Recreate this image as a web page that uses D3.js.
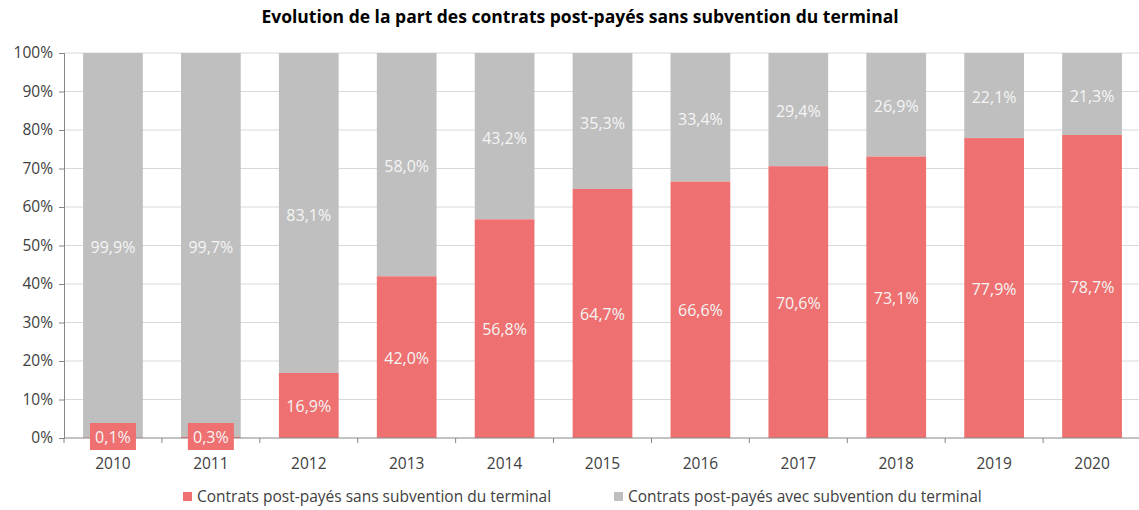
<!DOCTYPE html>
<html><head><meta charset="utf-8">
<script src="https://cdn.jsdelivr.net/npm/d3@7"></script>
<style>body{margin:0;background:#fff;} text{font-family:"Open Sans",sans-serif;}</style>
</head><body>
<svg id="c" width="1139" height="510"></svg>
<script>
const years = ["2010","2011","2012","2013","2014","2015","2016","2017","2018","2019","2020"];
const sansSubv = [0.1,0.3,16.9,42.0,56.8,64.7,66.6,70.6,73.1,77.9,78.7];
const avecSubv = [99.9,99.7,83.1,58.0,43.2,35.3,33.4,29.4,26.9,22.1,21.3];
const yTicks = [0,10,20,30,40,50,60,70,80,90,100];
const seriesNames = ["Contrats post-payés sans subvention du terminal","Contrats post-payés avec subvention du terminal"];
const title = "Evolution de la part des contrats post-payés sans subvention du terminal";

const red = "#ee7070", grey = "#bfbfbf";
const svg = d3.select("#c");
const m = {l:64, r:1141, t:53, b:438};
const x = d3.scaleBand().domain(years).range([m.l, m.r]).paddingInner(0.39).paddingOuter(0.195);
const y = d3.scaleLinear().domain([0,100]).range([m.b, m.t]);
const fmt = v => v.toFixed(1).replace(".", ",") + "%";

svg.append("text").attr("x", 580).attr("y", 23).attr("text-anchor","middle")
  .attr("font-size", 17.5).attr("font-weight","bold").attr("fill","#000").text(title);

// grid
svg.append("g").selectAll("line").data(yTicks.filter(d=>d>0)).join("line")
  .attr("x1", m.l).attr("x2", m.r).attr("y1", d=>y(d)).attr("y2", d=>y(d))
  .attr("stroke","#d9d9d9").attr("stroke-width",1);

// bars
const g = svg.append("g");
years.forEach((yr,i)=>{
  g.append("rect").attr("x", x(yr)).attr("width", x.bandwidth())
    .attr("y", y(100)).attr("height", y(sansSubv[i]) - y(100)).attr("fill", grey);
  g.append("rect").attr("x", x(yr)).attr("width", x.bandwidth())
    .attr("y", y(sansSubv[i])).attr("height", y(0) - y(sansSubv[i])).attr("fill", red);
});

// y axis
const ya = svg.append("g").attr("transform",`translate(${m.l},0)`)
  .call(d3.axisLeft(y).tickValues(yTicks).tickFormat(d=>d+"%").tickSize(5).tickPadding(6));
ya.select(".domain").attr("stroke","#868686");
ya.selectAll(".tick line").attr("stroke","#868686");
ya.selectAll("text").attr("font-size",15.5).attr("fill","#404040").attr("font-family","Open Sans");

// x axis
const xa = svg.append("g").attr("transform",`translate(0,${m.b})`)
  .call(d3.axisBottom(x).tickSize(0).tickPadding(20));
xa.select(".domain").attr("stroke","#868686").attr("d", `M${m.l},0H${m.r}`);
xa.selectAll("text").attr("font-size",15.5).attr("fill","#404040").attr("font-family","Open Sans");
const step = x.step();
xa.selectAll(".sep").data(d3.range(years.length)).join("line")
  .attr("x1", i=>m.l + step*i).attr("x2", i=>m.l + step*i)
  .attr("y1",0).attr("y2",5).attr("stroke","#868686");

// labels
const lab = svg.append("g").attr("font-size",16).attr("fill","#f5f5f5").attr("text-anchor","middle");
years.forEach((yr,i)=>{
  const cx = x(yr) + x.bandwidth()/2;
  const rs = sansSubv[i];
  let ry = (y(rs) + y(0))/2 + 1;
  if (rs < 5) {
    ry = y(0) - 1;
    lab.append("rect").attr("x", cx-23).attr("y", ry-14).attr("width", 46).attr("height", 27).attr("fill", red);
  }
  lab.append("text").attr("x", cx).attr("y", ry).attr("dy","0.35em").text(fmt(rs));
  const gy = (y(100) + y(rs))/2 + 2;
  lab.append("text").attr("x", cx).attr("y", gy).attr("dy","0.35em").text(fmt(avecSubv[i]));
});

// legend
const leg = svg.append("g").attr("font-size",15.5).attr("fill","#404040");
const items = [{n:seriesNames[0], c:red, x:183},{n:seriesNames[1], c:grey, x:614}];
items.forEach(it=>{
  leg.append("rect").attr("x", it.x).attr("y", 492).attr("width",9).attr("height",9).attr("fill", it.c);
  leg.append("text").attr("x", it.x+14).attr("y", 497).attr("dy","0.35em").attr("fill","#404040").text(it.n);
});
</script>
</body></html>
